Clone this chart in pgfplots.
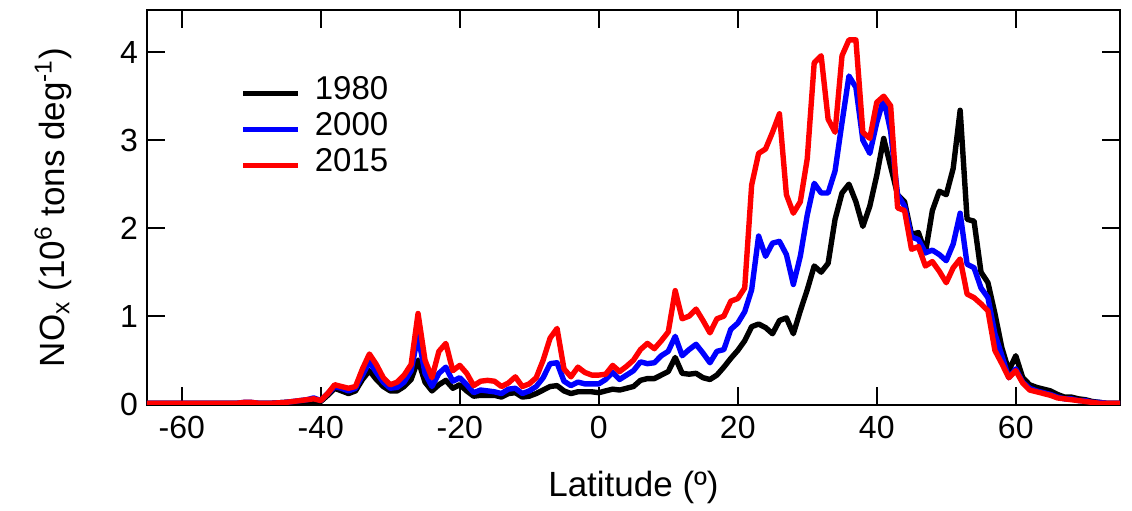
\documentclass[border=0pt]{standalone}
\usepackage{fontspec}
\setmainfont{Liberation Sans}
\usepackage{pgfplots}
\pgfplotsset{compat=1.18}
\usepackage{pgfplotstable}

\definecolor{c1980}{HTML}{000000}
\definecolor{c2000}{HTML}{0000FF}
\definecolor{c2015}{HTML}{FF0000}

% latitude, 1980, 2000, 2015 (10^6 tons per degree)
\pgfplotstableread{
lat  a     b     c
-65  0.01  0.01  0.01
-60  0.01  0.01  0.01
-55  0.01  0.01  0.01
-52  0.01  0.01  0.01
-51  0.01  0.02  0.02
-50  0.01  0.02  0.02
-49  0.01  0.01  0.01
-47  0.01  0.01  0.01
-45  0.02  0.02  0.02
-44  0.02  0.03  0.03
-43  0.03  0.04  0.04
-42  0.03  0.05  0.05
-41  0.03  0.07  0.06
-40  0.03  0.04  0.04
-39  0.10  0.12  0.12
-38  0.18  0.20  0.22
-37  0.15  0.18  0.20
-36  0.12  0.15  0.18
-35  0.15  0.18  0.20
-34  0.28  0.33  0.40
-33  0.38  0.48  0.57
-32  0.28  0.36  0.45
-31  0.20  0.25  0.30
-30  0.15  0.18  0.22
-29  0.15  0.19  0.25
-28  0.20  0.25  0.33
-27  0.28  0.38  0.45
-26  0.50  0.78  1.03
-25  0.25  0.35  0.50
-24  0.15  0.20  0.30
-23  0.22  0.35  0.60
-22  0.27  0.42  0.69
-21  0.18  0.26  0.38
-20  0.22  0.30  0.44
-19  0.15  0.22  0.35
-18  0.09  0.13  0.21
-17  0.10  0.16  0.26
-16  0.10  0.15  0.27
-15  0.10  0.14  0.26
-14  0.08  0.12  0.20
-13  0.12  0.17  0.24
-12  0.13  0.18  0.31
-11  0.08  0.12  0.20
-10  0.09  0.15  0.23
-9   0.12  0.20  0.30
-8   0.16  0.30  0.50
-7   0.20  0.46  0.75
-6   0.21  0.47  0.86
-5   0.15  0.26  0.40
-4   0.12  0.21  0.31
-3   0.14  0.25  0.42
-2   0.14  0.23  0.36
-1   0.14  0.23  0.33
0    0.13  0.23  0.33
1    0.15  0.28  0.34
2    0.17  0.36  0.44
3    0.16  0.28  0.37
4    0.18  0.33  0.43
5    0.20  0.38  0.50
6    0.27  0.48  0.62
7    0.29  0.46  0.69
8    0.29  0.47  0.63
9    0.33  0.55  0.72
10   0.37  0.60  0.82
11   0.53  0.77  1.29
12   0.35  0.55  0.97
13   0.34  0.62  1.00
14   0.35  0.68  1.08
15   0.30  0.58  0.95
16   0.28  0.47  0.81
17   0.33  0.60  0.97
18   0.42  0.62  1.00
19   0.52  0.85  1.17
20   0.61  0.92  1.20
21   0.72  1.05  1.32
22   0.88  1.30  2.49
23   0.91  1.91  2.85
24   0.87  1.68  2.90
25   0.80  1.83  3.09
26   0.95  1.85  3.30
27   0.98  1.70  2.38
28   0.80  1.36  2.17
29   1.06  1.68  2.30
30   1.30  2.15  2.79
31   1.57  2.51  3.88
32   1.50  2.40  3.96
33   1.60  2.40  3.24
34   2.10  2.65  3.09
35   2.40  3.20  3.96
36   2.50  3.73  4.14
37   2.30  3.60  4.14
38   2.02  3.00  3.09
39   2.25  2.85  3.02
40   2.60  3.20  3.43
41   3.02  3.47  3.50
42   2.70  3.10  3.39
43   2.38  2.38  2.23
44   2.30  2.25  2.20
45   1.93  1.90  1.76
46   1.95  1.87  1.79
47   1.72  1.72  1.57
48   2.20  1.75  1.62
49   2.42  1.70  1.51
50   2.38  1.63  1.38
51   2.68  1.82  1.55
52   3.34  2.17  1.65
53   2.10  1.59  1.25
54   2.08  1.55  1.21
55   1.50  1.32  1.14
56   1.38  1.21  1.06
57   1.03  0.80  0.61
58   0.64  0.55  0.46
59   0.38  0.30  0.30
60   0.55  0.40  0.38
61   0.30  0.25  0.24
62   0.22  0.18  0.16
63   0.19  0.15  0.14
64   0.17  0.13  0.12
65   0.15  0.11  0.10
66   0.11  0.08  0.07
67   0.08  0.06  0.06
68   0.08  0.06  0.05
69   0.06  0.04  0.04
70   0.05  0.04  0.03
71   0.03  0.02  0.02
72   0.02  0.02  0.01
73   0.01  0.01  0.01
75   0.01  0.01  0.01
}\noxdata

\begin{document}
\begin{tikzpicture}
\begin{axis}[
  name=ax,
  scale only axis,
  width=486.5pt,height=197.5pt,
  xmin=-65,xmax=75,ymin=-0.01,ymax=4.48,
  xtick={-60,-40,-20,0,20,40,60},
  xticklabels={-60,-40,-20,0,20,40,60},
  ytick={0,1,2,3,4},
  yticklabels={0,1,2,3,4},
  tick align=inside,
  xtick pos=both,ytick pos=both,
  major tick length=9pt,
  axis line style={line width=1.2pt},
  every tick/.style={black,line width=1.2pt},
  tick label style={font=\fontsize{16}{18}\selectfont},
  xticklabel style={yshift=-2pt},
  yticklabel style={xshift=-1pt},
  xlabel={Latitude (º)},
  ylabel={NO\textsubscript{x} (10\textsuperscript{6} tons deg\textsuperscript{-1})},
  every axis x label/.style={at={(axis description cs:0.5,0)},yshift=-41pt,anchor=center,
    font=\fontsize{17.5}{20}\selectfont},
  every axis y label/.style={at={(axis description cs:0,0.5)},xshift=-47pt,anchor=center,rotate=90,
    font=\fontsize{17.5}{20}\selectfont},
  legend style={draw=none,fill=none,at={(0.0956,0.835)},anchor=north west,
    font=\fontsize{16.5}{18}\selectfont,row sep=0pt,column sep=7pt,inner sep=0pt,
    nodes={inner sep=0pt,text height=12pt,text depth=6pt}},
  legend cell align=left,
  legend image code/.code={\draw[#1,line width=2.7pt] (0pt,0pt) -- (27.5pt,0pt);},
  every axis plot/.append style={line width=2.7pt,line join=round},
]
\addplot[c1980] table[x=lat,y=a] {\noxdata};
\addplot[c2000] table[x=lat,y=b] {\noxdata};
\addplot[c2015] table[x=lat,y=c] {\noxdata};
\legend{1980,2000,2015}
\end{axis}
% room round the axis as in the reference
\path (ax.south west) ++(-73.5pt,-53pt) coordinate (bl);
\path (ax.north east) ++(6pt,5pt) coordinate (tr);
\path (bl) rectangle (tr);
\end{tikzpicture}
\end{document}
